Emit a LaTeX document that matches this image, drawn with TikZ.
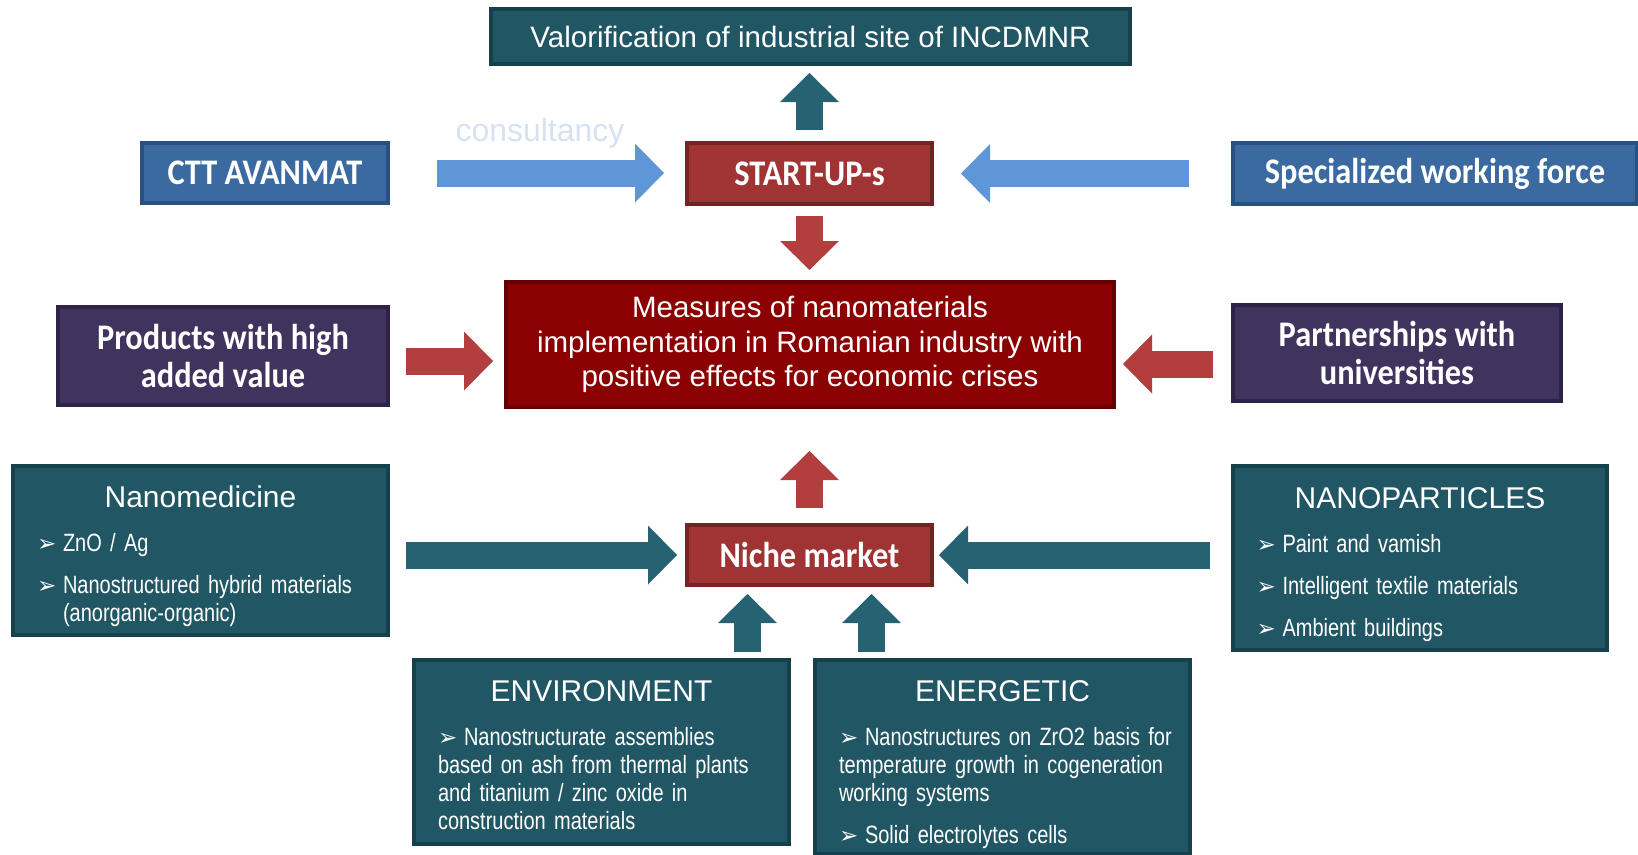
\documentclass[tikz,border=0pt]{standalone}
\usepackage{fontspec}
\setmainfont{Liberation Sans}
\newfontfamily\calfont[FakeStretch=0.9]{Carlito}
\newfontfamily\narrowfont[FakeStretch=0.8]{Liberation Sans}
\newfontfamily\symfont{DejaVu Sans}
\usetikzlibrary{arrows.meta}

\definecolor{tealfill}{RGB}{33,87,101}
\definecolor{tealline}{RGB}{22,64,76}
\definecolor{bluefill}{RGB}{58,106,160}
\definecolor{blueline}{RGB}{40,80,128}
\definecolor{purplefill}{RGB}{64,51,94}
\definecolor{purpleline}{RGB}{44,35,70}
\definecolor{redfill}{RGB}{160,52,52}
\definecolor{redline}{RGB}{118,34,34}
\definecolor{deepred}{RGB}{139,0,0}
\definecolor{deepredline}{RGB}{100,0,0}
\definecolor{bluearrow}{RGB}{95,150,215}
\definecolor{redarrow}{RGB}{178,62,62}
\definecolor{tealarrow}{RGB}{38,98,113}
\definecolor{consultgray}{RGB}{215,226,240}

\newcommand{\bul}{\makebox[26pt][l]{\symfont\fontsize{23}{23}\selectfont ➢}}
\newcommand{\bline}[1]{\hbox to\hsize{#1\hss}}
\newcommand{\bitem}[1]{\bline{\bul #1}}
\newcommand{\bhead}[1]{\hbox to\hsize{\hss\normalfont\fontsize{30}{34}\selectfont #1\hss}}
\newcommand{\itemfont}{\narrowfont\fontsize{25}{28}\selectfont\fontdimen2\font=3.6pt}

\begin{document}
\begin{tikzpicture}[x=1pt,y=-1pt,
  box/.style={draw,line width=4pt,text=white,inner sep=0pt},
  tealbox/.style={box,fill=tealfill,draw=tealline},
  bluebox/.style={box,fill=bluefill,draw=blueline},
  purplebox/.style={box,fill=purplefill,draw=purpleline},
  redbox/.style={box,fill=redfill,draw=redline},
  calbold/.style={font=\calfont\bfseries\fontsize{36}{38}\selectfont},
  listbox/.style={tealbox,text width=327pt,font=\itemfont},
  bigarrow/.style={line width=27pt,-{Triangle[width=59pt,length=29pt,line width=0pt]}},
  bluearr/.style={bigarrow,color=bluearrow},
  redarr/.style={bigarrow,color=redarrow},
  tealarr/.style={bigarrow,color=tealarrow}]

\useasboundingbox (0,0) rectangle (1638,854);

% Top row
\node[tealbox,minimum width=639pt,minimum height=55pt,font=\fontsize{29.5}{34}\selectfont] (valor) at (810.5,36.5) {Valorification of industrial site of INCDMNR};
\node[redbox,calbold,minimum width=245pt,minimum height=61pt] (startup) at (809.5,173.5) {START-UP-s};
\node[bluebox,calbold,minimum width=246pt,minimum height=60pt] (ctt) at (265,173) {CTT AVANMAT};
\node[bluebox,calbold,minimum width=404pt,minimum height=61pt] (spec) at (1435,173.5) {Specialized working force};
\node[text=consultgray,anchor=base,font=\fontsize{32}{36}\selectfont] (consult) at (540,141) {consultancy};

% Middle row
\node[box,fill=deepred,draw=deepredline,minimum width=608pt,minimum height=125pt,align=center,font=\fontsize{29.5}{34.5}\selectfont] (measures) at (810,344.5) {Measures of nanomaterials\\implementation in Romanian industry with\\positive effects for economic crises};
\node[purplebox,calbold,minimum width=330pt,minimum height=98pt,align=center] (products) at (223,356) {Products with high\\added value};
\node[purplebox,calbold,minimum width=328pt,minimum height=96pt,align=center] (partner) at (1397,353) {Partnerships with\\universities};

% Lower rows
\node[redbox,calbold,minimum width=245pt,minimum height=60pt] (niche) at (809.5,555) {Niche market};
\node[listbox,minimum width=375pt,minimum height=169pt] (nanomed) at (200.5,550.5) {\vskip6pt\bhead{Nanomedicine}\vskip16pt
  \bitem{ZnO / Ag}\vskip14pt
  \bitem{Nanostructured hybrid materials}
  \bline{\hspace{26pt}(anorganic-organic)}};
\node[listbox,minimum width=374pt,minimum height=184pt] (nanopart) at (1420,558) {\vskip6pt\bhead{NANOPARTICLES}\vskip16pt
  \bitem{Paint and vamish}\vskip14pt
  \bitem{Intelligent textile materials}\vskip14pt
  \bitem{Ambient buildings}};
\node[listbox,minimum width=375pt,minimum height=184pt] (env) at (601.5,752) {\vskip0pt\bhead{ENVIRONMENT}\vskip16pt
  \bitem{Nanostructurate assemblies}
  \bline{based on ash from thermal plants}
  \bline{and titanium / zinc oxide in}
  \bline{construction materials}};
\node[listbox,minimum width=375pt,minimum height=194pt] (energ) at (1002.5,757) {\vskip9pt\bhead{ENERGETIC}\vskip16pt
  \bitem{Nanostructures on ZrO2 basis for}
  \bline{temperature growth in cogeneration}
  \bline{working systems}\vskip14pt
  \bitem{Solid electrolytes cells}};

% Arrows
\coordinate (envup) at ([xshift=-62pt]niche.south);
\coordinate (energup) at ([xshift=62pt]niche.south);
\draw[tealarr,shorten <=11pt,shorten >=7pt] (startup.north) -- (startup.north |- valor.south);
\draw[bluearr,shorten <=47pt,shorten >=21pt] (ctt.east) -- (ctt.east -| startup.west);
\draw[bluearr,shorten <=42pt,shorten >=27pt] (spec.west) -- (spec.west -| startup.east);
\draw[redarr,shorten <=10pt,shorten >=10pt] (startup.south) -- (startup.south |- measures.north);
\draw[redarr,shorten <=16pt,shorten >=11pt] ([yshift=-5pt]products.east) -- ([yshift=-5pt]products.east -| measures.west);
\draw[redarr,shorten <=18pt,shorten >=7pt] ([yshift=-11pt]partner.west) -- ([yshift=-11pt]partner.west -| measures.east);
\draw[redarr,shorten <=15pt,shorten >=42pt] (niche.north) -- (niche.north |- measures.south);
\draw[tealarr,shorten <=16pt,shorten >=8pt] (nanomed.east |- niche.west) -- (niche.west);
\draw[tealarr,shorten <=21pt,shorten >=5pt] (nanopart.west |- niche.east) -- (niche.east);
\draw[tealarr,shorten <=6pt,shorten >=7pt] (env.north -| envup) -- (envup);
\draw[tealarr,shorten <=6pt,shorten >=7pt] (energ.north -| energup) -- (energup);
\end{tikzpicture}
\end{document}
